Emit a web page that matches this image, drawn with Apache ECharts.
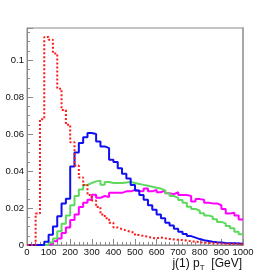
<!DOCTYPE html>
<html>
<head>
<meta charset="utf-8">
<script src="https://cdn.jsdelivr.net/npm/echarts@6/dist/echarts.min.js"></script>
<style>
html,body{margin:0;padding:0;background:#fff;}
#chart{width:270px;height:273px;}
</style>
</head>
<body>
<div id="chart"></div>
<script>
// bin lower edges (GeV), 20 GeV bins from 0 to 1000
const binLow = [0,20,40,60,80,100,120,140,160,180,200,220,240,260,280,300,320,340,360,380,
  400,420,440,460,480,500,520,540,560,580,600,620,640,660,680,700,720,740,760,780,
  800,820,840,860,880,900,920,940,960,980];
const xUpper = 1000;

const redDotted = [0,0,0.017,0.068,0.1125,0.111,0.1035,0.0845,0.073,0.065,
  0.0555,0.043,0.0365,0.0325,0.027,0.024,0.0205,0.0165,0.0145,0.012,
  0.0095,0.0085,0.0078,0.0072,0.0065,0.0054,0.0049,0.0045,0.0038,0.0036,
  0.0041,0.0036,0.0033,0.003,0.0028,0.0027,0.0024,0.002,0.0018,0.0015,
  0.0013,0.0012,0.001,0.0009,0.0008,0.0007,0.0006,0.0005,0.0005,0.0004];

const blue = [0,0,0,0,0.0018,0.0055,0.0100,0.0155,0.0225,0.0250,
  0.0425,0.050,0.0551,0.0582,0.0605,0.060,0.056,0.0533,0.0524,0.0461,
  0.0449,0.0415,0.0385,0.036,0.0325,0.0295,0.027,0.0245,0.0215,0.019,
  0.0165,0.0145,0.012,0.0105,0.0088,0.0072,0.006,0.0048,0.004,0.0032,
  0.0026,0.0022,0.0018,0.0015,0.0013,0.0011,0.001,0.0009,0.0008,0.0007];

const green = [0,0,0,0,0,0.0013,0.0035,0.0075,0.0115,0.016,
  0.0215,0.0265,0.030,0.0325,0.0335,0.0344,0.0348,0.0326,0.034,0.0335,
  0.0335,0.0335,0.0338,0.034,0.0335,0.033,0.0325,0.032,0.0315,0.031,
  0.0305,0.0295,0.028,0.0265,0.0255,0.0243,0.0229,0.0207,0.0195,0.0185,
  0.0171,0.016,0.0153,0.0139,0.0125,0.0117,0.0103,0.009,0.0072,0.0058];

const magenta = [0,0,0,0,0,0.0008,0.002,0.0035,0.0065,0.0095,
  0.0135,0.0165,0.0205,0.0228,0.0245,0.0272,0.0255,0.0265,0.026,0.0282,
  0.0282,0.0282,0.029,0.029,0.0297,0.0292,0.029,0.0305,0.029,0.0298,
  0.0285,0.0295,0.028,0.0275,0.0285,0.027,0.027,0.0265,0.0235,0.0248,
  0.0245,0.0228,0.0225,0.0225,0.0215,0.0195,0.017,0.0175,0.016,0.0138];

const yTickLabels = ['0','0.02','0.04','0.06','0.08','0.1'];
const xTickLabels = ['0','100','200','300','400','500','600','700','800','900','1000'];
const xTitle = '{a|j(1) p}{s|T}{a|  [GeV]}';

function histData(vals){
  const d = binLow.map((x,i)=>[x, vals[i]]);
  d.push([xUpper, vals[vals.length-1]]);
  return d;
}

const axisGray = '#8a8a8a';
const font = "'Liberation Sans Narrow','Liberation Sans',Arial,sans-serif";
const titleFont = "'Liberation Sans',Arial,sans-serif";

const chart = echarts.init(document.getElementById('chart'), null, {renderer:'canvas'});
chart.setOption({
  animation:false,
  backgroundColor:'#fff',
  title:{
    text:xTitle, right:28, top:257, padding:0, itemGap:0,
    textStyle:{rich:{
      a:{fontSize:12,fontFamily:titleFont,color:'#111',fontWeight:'normal',lineHeight:14},
      s:{fontSize:8,fontFamily:titleFont,color:'#111',fontWeight:'normal',lineHeight:14,padding:[7,0,0,0]}
    }}
  },
  grid:{left:27,right:27,top:28,bottom:28,show:true,borderColor:axisGray,borderWidth:1,containLabel:false,outerBoundsMode:'none'},
  xAxis:{
    type:'value',min:0,max:1000,interval:100,
    axisLine:{show:true,lineStyle:{color:axisGray,width:1}},
    axisTick:{show:true,inside:true,length:6,lineStyle:{color:axisGray}},
    minorTick:{show:true,splitNumber:5,length:3,lineStyle:{color:axisGray}},
    splitLine:{show:false},
    axisLabel:{color:'#111',fontSize:9.5,fontFamily:font,margin:2,hideOverlap:false,
      formatter:v=>xTickLabels[Math.round(v/100)]}
  },
  yAxis:[{
    type:'value',min:0,max:0.1173,interval:0.02,
    axisLine:{show:true,lineStyle:{color:axisGray,width:1}},
    axisTick:{show:true,inside:true,length:6,lineStyle:{color:axisGray}},
    minorTick:{show:true,splitNumber:4,length:3,lineStyle:{color:axisGray}},
    splitLine:{show:false},
    axisLabel:{color:'#111',fontSize:9.5,fontFamily:font,margin:3,showMaxLabel:false,
      formatter:v=>{const i=Math.round(v/0.02); return (Math.abs(v-i*0.02)<1e-6 && i<yTickLabels.length)?yTickLabels[i]:'';}}
  },{
    type:'value',position:'right',min:0,max:0.1173,
    axisLine:{show:true,lineStyle:{color:'#a8a8a8',width:2}},
    axisTick:{show:false},axisLabel:{show:false},splitLine:{show:false}
  }],
  series:[
    {type:'line',step:'end',symbol:'none',data:histData(magenta),lineStyle:{color:'#ff00ff',width:2},z:2},
    {type:'line',step:'end',symbol:'none',data:histData(green),lineStyle:{color:'#5fd85f',width:2},z:3},
    {type:'line',step:'end',symbol:'none',data:histData(blue),lineStyle:{color:'#1010f0',width:2},z:4},
    {type:'line',step:'end',symbol:'none',data:histData(redDotted),lineStyle:{color:'#ff1a1a',width:2,type:[2,2]},z:5}
  ]
});
</script>
</body>
</html>
